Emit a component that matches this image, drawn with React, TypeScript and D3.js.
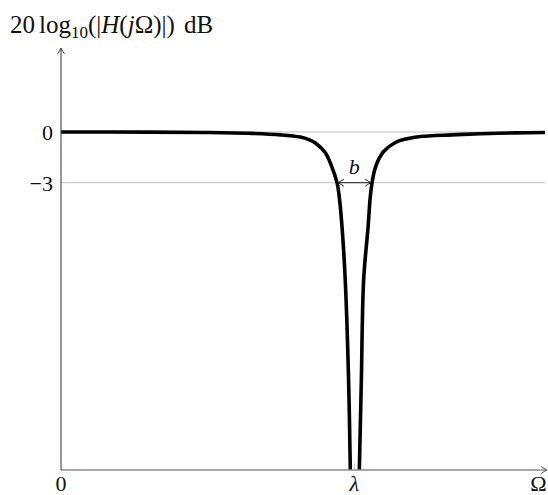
import React from "react";
import * as d3 from "d3";

// values (Ω in units of λ, magnitude in dB)
const leftOmega = [0, 0.3, 0.5, 0.65, 0.75, 0.816, 0.845, 0.867, 0.9, 0.922, 0.941, 0.949, 0.958, 0.969, 0.9805, 0.9863];
const leftDb = [0, -0.01, -0.03, -0.08, -0.17, -0.3, -0.45, -0.65, -1.2, -2.0, -3.0, -3.9, -5.6, -8.76, -14.7, -20];
const rightOmega = [1.017, 1.0239, 1.0317, 1.047, 1.054, 1.0604, 1.07, 1.085, 1.1, 1.14, 1.18, 1.225, 1.33, 1.43, 1.55, 1.65];
const rightDb = [-20, -14.7, -8.76, -5.6, -3.9, -3.0, -2.2, -1.55, -1.15, -0.62, -0.4, -0.27, -0.17, -0.1, -0.05, -0.03];

const yTicks = [0, -3];
const yTickLabels = ["0", "\u22123"];
const xTicks = [0, 1, 1.65];
const xTickLabels = ["0", "\u03bb", "\u03a9"];
const bandEdges = [0.941, 1.0604];

const FONT = "'Liberation Serif', 'DejaVu Serif', serif";

// latex-ish "to" arrow head, pointing to (x,y) in direction angle (deg)
function arrowHead(x: number, y: number, angle: number, key: string, color = "#222") {
  return (
    <path
      key={key}
      transform={`translate(${x},${y}) rotate(${angle})`}
      d="M-5.5,-3.2 Q-1.5,-0.6 0,0 Q-1.5,0.6 -5.5,3.2"
      fill="none"
      stroke={color}
      strokeWidth={0.9}
      strokeLinecap="round"
    />
  );
}

export default function App() {
  const width = 548;
  const height = 495;

  const x = d3.scaleLinear().domain([0, 1.65]).range([61, 545]);
  const y = d3.scaleLinear().domain([-20, 0]).range([470, 132]);

  const line = d3
    .line<[number, number]>()
    .x((d) => x(d[0]))
    .y((d) => y(d[1]))
    .curve(d3.curveCatmullRom.alpha(0.5));

  const left = leftOmega.map((o, i) => [o, leftDb[i]] as [number, number]);
  const right = rightOmega.map((o, i) => [o, rightDb[i]] as [number, number]);

  const x0 = x(0);
  const yBottom = y(-20);
  const yTop = 48;
  const xEnd = 547;

  return (
    <svg
      width={width}
      height={height}
      style={{ position: "absolute", left: 0, top: 0 }}
      fontFamily={FONT}
    >
      <rect width={width} height={height} fill="#fff" />

      {/* horizontal grid lines at 0 and -3 dB */}
      {yTicks.map((t) => (
        <line key={"g" + t} x1={x0} x2={545} y1={y(t)} y2={y(t)} stroke="#bdbdbd" strokeWidth={1} />
      ))}

      {/* tick at lambda */}
      <line x1={x(1)} x2={x(1)} y1={yBottom - 7} y2={yBottom} stroke="#bbb" strokeWidth={0.8} />

      {/* curve */}
      <path d={line(left) || ""} fill="none" stroke="#000" strokeWidth={3.6} strokeLinejoin="round" />
      <path d={line(right) || ""} fill="none" stroke="#000" strokeWidth={3.6} strokeLinejoin="round" />

      {/* axes */}
      <line x1={x0} x2={xEnd - 1} y1={yBottom} y2={yBottom} stroke="#8a8a8a" strokeWidth={1.3} />
      {arrowHead(xEnd, yBottom, 0, "ax", "#444")}
      <line x1={x0} x2={x0} y1={yBottom} y2={yTop + 1} stroke="#333" strokeWidth={1} />
      {arrowHead(x0, yTop, -90, "ay", "#222")}

      {/* y tick labels */}
      {yTicks.map((t, i) => (
        <text key={"yl" + t} x={53} y={y(t) + 8} textAnchor="end" fontSize={22} fill="#111">
          {yTickLabels[i]}
        </text>
      ))}

      {/* x tick labels */}
      {xTicks.map((t, i) => (
        <text
          key={"xl" + i}
          x={i === 2 ? 538.5 : x(t)}
          y={491}
          textAnchor="middle"
          fontSize={22}
          fontStyle={i === 1 ? "italic" : "normal"}
          fill="#111"
        >
          {xTickLabels[i]}
        </text>
      ))}

      {/* y axis title */}
      <text x={10} y={33} fontSize={25} fill="#111">
        <tspan>20</tspan>
        <tspan dx={4}>log</tspan>
        <tspan fontSize={17} dy={5}>10</tspan>
        <tspan dy={-5}>(|</tspan>
        <tspan fontStyle="italic">H</tspan>
        <tspan>(</tspan>
        <tspan fontStyle="italic">j</tspan>
        <tspan>Ω)|)</tspan>
        <tspan dx={9}>dB</tspan>
      </text>

      {/* bandwidth marker */}
      <line x1={x(bandEdges[0]) + 1} x2={x(bandEdges[1]) - 1} y1={y(-3)} y2={y(-3)} stroke="#111" strokeWidth={0.9} />
      {arrowHead(x(bandEdges[0]) + 1, y(-3), 180, "bl", "#111")}
      {arrowHead(x(bandEdges[1]) - 1, y(-3), 0, "br", "#111")}
      <text x={x(1)} y={174} textAnchor="middle" fontSize={22} fontStyle="italic" fill="#111">
        b
      </text>
    </svg>
  );
}
